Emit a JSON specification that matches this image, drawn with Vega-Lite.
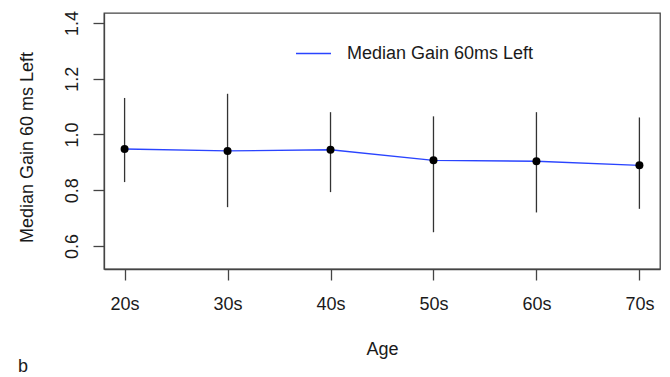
{
  "$schema": "https://vega.github.io/schema/vega-lite/v6.json",
  "width": 556,
  "height": 256,
  "autosize": {"type": "none"},
  "padding": {"left": 104, "top": 13, "right": 10, "bottom": 108},
  "background": "white",
  "title": {"text": "b", "orient": "bottom", "anchor": "start", "frame": "bounds", "font": "Liberation Sans", "fontSize": 18, "fontWeight": "normal", "color": "#1a1a1a", "offset": 0},
  "config": {
    "view": {"stroke": "#444", "strokeWidth": 1.3},
    "axis": {"labelFont": "Liberation Sans", "titleFont": "Liberation Sans", "labelFontSize": 18, "titleFontSize": 18, "titleFontWeight": "normal", "labelColor": "#1a1a1a", "titleColor": "#1a1a1a", "domainColor": "#444", "tickColor": "#444", "domainWidth": 1.3, "tickWidth": 1.3, "grid": false, "tickSize": 11}
  },
  "data": {"values": [
    {"age": "20s", "median": 0.948, "low": 0.829, "high": 1.131},
    {"age": "30s", "median": 0.941, "low": 0.739, "high": 1.146},
    {"age": "40s", "median": 0.945, "low": 0.793, "high": 1.080},
    {"age": "50s", "median": 0.907, "low": 0.649, "high": 1.065},
    {"age": "60s", "median": 0.904, "low": 0.720, "high": 1.080},
    {"age": "70s", "median": 0.889, "low": 0.733, "high": 1.061}
  ]},
  "encoding": {
    "x": {"field": "age", "type": "nominal", "sort": null,
      "scale": {"type": "point", "padding": 0.2},
      "axis": {"title": "Age", "labelAngle": 0, "labelBaseline": "middle", "labelPadding": 24, "titleBaseline": "middle", "titleY": 80}}
  },
  "layer": [
    {"mark": {"type": "rule", "color": "#333", "strokeWidth": 1.3},
     "encoding": {
       "y": {"field": "low", "type": "quantitative",
         "scale": {"domain": [0.517, 1.436], "nice": false, "zero": false},
         "axis": {"title": "Median Gain 60 ms Left", "values": [0.6, 0.8, 1.0, 1.2, 1.4], "format": ".1f", "labelAngle": -90, "labelAlign": "center", "labelBaseline": "middle", "labelPadding": 21, "titleBaseline": "middle", "titleAngle": -90, "titleX": -77, "titleY": 134}},
       "y2": {"field": "high"}
     }},
    {"mark": {"type": "line", "strokeWidth": 1.4},
     "encoding": {
       "y": {"field": "median", "type": "quantitative"},
       "color": {"datum": "Median Gain 60ms Left", "type": "nominal",
         "scale": {"range": ["#2a44ff"]},
         "legend": {"title": null, "orient": "none", "legendX": 191, "legendY": 22, "symbolType": "stroke", "symbolSize": 1225, "symbolStrokeWidth": 1.5, "labelFont": "Liberation Sans", "labelFontSize": 18, "labelColor": "#1a1a1a", "labelOffset": 15, "padding": 0, "labelLimit": 400}}
     }},
    {"mark": {"type": "point", "filled": true, "color": "black", "opacity": 1, "size": 64},
     "encoding": {
       "y": {"field": "median", "type": "quantitative"}
     }}
  ]
}
